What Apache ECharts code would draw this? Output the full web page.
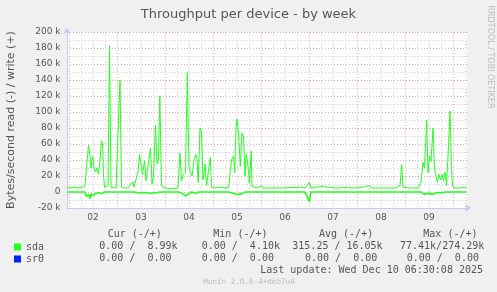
<!DOCTYPE html>
<html><head><meta charset="utf-8">
<script src="https://cdn.jsdelivr.net/npm/echarts@6/dist/echarts.min.js"></script>
<style>html,body{margin:0;padding:0;background:#f0f0f0}#c{width:497px;height:292px}</style>
</head><body><div id="c"></div>
<script>
// hours relative to Tue Dec 2 00:00 (plot spans -1 .. 199 h)
const hours = [
  -1, 0.5, 2.5, 4.5, 6.5, 8, 8.75, 9.75, 10.5, 11,
  11.75, 12.5, 13.25, 14, 14.75, 15.5, 16.25, 16.75, 17.25, 17.75,
  18.5, 19.5, 20.25, 21, 22, 23.5, 24.5, 25.5, 26.25, 27.5,
  29.5, 31, 32, 32.5, 33.5, 34.5, 35.25, 36, 36.75, 37.75,
  38.5, 39.25, 40.75, 41.5, 42.25, 43.25, 44, 44.75, 45.4, 46.25,
  47, 48.5, 50.5, 52.5, 54.5, 55.5, 56.25, 57.25, 58.25, 59.15,
  60, 60.75, 61.5, 62.5, 63.35, 64, 64.6, 65.5, 66.25, 67,
  68, 68.75, 69.75, 70.65, 71.25, 73, 75.5, 78, 79.85, 80.65,
  81.25, 82.35, 82.85, 83.5, 84, 84.85, 85.65, 86.5, 87.25, 88,
  88.65, 89.25, 89.75, 90.15, 91.15, 91.5, 92.25, 94, 96.35, 97,
  100.5, 105.5, 110.5, 115.5, 118, 120.15, 121, 126.35, 127, 133,
  138, 143, 146.5, 150.5, 151.5, 158, 163, 165.5, 166.35, 167,
  170.5, 174.5, 176, 177, 177.75, 178.85, 179.5, 180.25, 181, 182,
  182.75, 183.5, 184.25, 185, 185.75, 186.5, 187.25, 188, 188.75, 189.5,
  190.5, 191.25, 191.75, 192.5, 195.5, 197.5, 198.75
];
// sda write (+), kB/s
const sdaWrite = [
  6, 5, 6, 5, 6, 8, 30, 59, 45, 30,
  45, 30, 25, 30, 22, 40, 64, 60, 22, 6,
  5, 8, 183, 6, 5, 5, 6, 140, 6, 5,
  5, 10, 13, 6, 8, 25, 47, 35, 22, 39,
  14, 28, 55, 10, 20, 83, 35, 40, 120, 9,
  6, 5, 4, 4.5, 5, 49, 14, 22, 25, 150,
  30, 25, 20, 39, 47, 42, 12, 80, 75, 15,
  35, 8, 10, 43, 6, 5, 6, 5, 6, 26,
  40, 45, 24, 82, 91, 70, 32, 74, 70, 20,
  47, 47, 27, 11, 51, 7, 5, 5, 8, 5,
  5, 5, 5.5, 6, 5, 12, 5, 7, 5, 5,
  5.5, 5, 6, 8, 5, 5, 5, 8, 34, 6,
  5, 5, 12, 37, 30, 90, 24, 45, 38, 80,
  30, 20, 12, 22, 15, 22, 14, 25, 8, 45,
  101, 30, 8, 5, 5, 6, 6
];
// sda read (-), kB/s, drawn below zero
const sdaRead = [
  0, 0, 0, 0, 0, 0, -6, -3, -8, -2,
  -5, -7, -2, -4, -1, -3, -2, -1, -1, 0,
  0, 0, 0, 0, 0, 0, 0, 0, 0, 0,
  0, 0, 0, 0, 0, -1, -2, -1, -2, -1,
  -2, -1, -2, -1, -1, 0, -1, 0, 0, 0,
  0, 0, 0, 0, 0, -1, -1, -3, -5, -4,
  -2, -1, 0, -1, -2, 0, 0, 0, 0, 0,
  0, 0, 0, 0, 0, 0, 0, 0, 0, -1,
  -1, -2, -1, -3, -2, -3, -1, -2, -1, 0,
  0, 0, 0, 0, 0, 0, 0, 0, 0, 0,
  0, 0, 0, 0, 0, -12, 0, 0, 0, 0,
  0, 0, 0, 0, 0, 0, 0, 0, 0, 0,
  0, 0, 0, -1, -3, -2, -3, -2, -1, -3,
  -2, -1, -2, -1, -2, -1, 0, 0, 0, 0,
  0, 0, 0, 0, 0, 0, 0
];
const sr0Write = [];
const sr0Read = [];
const dayLabels = ['02', '03', '04', '05', '06', '07', '08', '09'];
const tableHeader = ['Cur (-/+)', 'Min (-/+)', 'Avg (-/+)', 'Max (-/+)'];
const sdaStats = ['0.00 /  8.99k', '0.00 /  4.10k', '315.25 / 16.05k', '77.41k/274.29k'];
const sr0Stats = ['0.00 /  0.00', '0.00 /  0.00', '0.00 /  0.00', '0.00 /  0.00'];
const lastUpdate = 'Last update: Wed Dec 10 06:30:08 2025';

// half-hour slots across the plot, for grid lines and day labels
const SLOTS = 401, PER_DAY = 48, DAY0 = 2;
const cats = [];
for (let i = 0; i < SLOTS; i++) {
  const d = (i - DAY0 - PER_DAY / 2) / PER_DAY;
  cats.push(Number.isInteger(d) && d >= 0 && d < dayLabels.length ? dayLabels[d] : '');
}

const GREEN = '#22ff22', BLUE = '#0022ff', TXT = '#555';
const MONO = '10px "DejaVu Sans Mono"';
const RED_GRID = {color: '#eeaaaa', type: [1, 2]};
const GRAY_GRID = {color: '#d0d0d0', type: [1, 2]};
const chart = echarts.init(document.getElementById('c'), null, {renderer: 'canvas'});

const graphics = [
  {type: 'text', x: 490, y: 57, rotation: -Math.PI / 2,
   style: {text: 'RRDTOOL / TOBI OETIKER', align: 'center', verticalAlign: 'middle', font: '8px "DejaVu Sans"', fill: '#bbb'}},
  {type: 'text', x: 483, y: 270, style: {text: lastUpdate, align: 'right', verticalAlign: 'middle', font: MONO, fill: TXT}},
  {type: 'text', x: 249, y: 282, style: {text: 'Munin 2.0.6-4+deb7u4', align: 'center', verticalAlign: 'middle', font: '7.6px "DejaVu Sans Mono"', fill: '#bbb'}}
];
const headX = [107.7, 213.3, 319, 423.3];
const sdaX = [99.3, 201.7, 292.3, 400];
const sr0X = [99.3, 201.7, 305, 406.7];
tableHeader.forEach((t, k) => graphics.push({type: 'text', x: headX[k], y: 234, style: {text: t, verticalAlign: 'middle', font: MONO, fill: TXT}}));
sdaStats.forEach((t, k) => graphics.push({type: 'text', x: sdaX[k], y: 246, style: {text: t, verticalAlign: 'middle', font: MONO, fill: TXT}}));
sr0Stats.forEach((t, k) => graphics.push({type: 'text', x: sr0X[k], y: 258, style: {text: t, verticalAlign: 'middle', font: MONO, fill: TXT}}));

const lineSeries = (name, xs, ys, color, z, width) => ({
  name, type: 'line', xAxisIndex: 1, yAxisIndex: 0, z,
  data: ys.map((v, i) => [xs[i], v]),
  showSymbol: false, symbol: 'none', animation: false,
  lineStyle: {color, width}, itemStyle: {color}
});

chart.setOption({
  backgroundColor: '#f0f0f0',
  animation: false,
  title: {text: 'Throughput per device - by week', left: 'center', top: 3,
          textStyle: {fontFamily: 'DejaVu Sans', fontSize: 13, fontWeight: 'normal', color: TXT}},
  legend: {data: ['sda', 'sr0'], orient: 'vertical', left: 14, top: 242, padding: 0,
           itemWidth: 7, itemHeight: 7, itemGap: 2, icon: 'rect', selectedMode: false,
           textStyle: {fontFamily: 'DejaVu Sans Mono', fontSize: 10, color: TXT}},
  grid: {left: 67, top: 32, width: 400, height: 176, show: true, backgroundColor: '#ffffff', borderWidth: 0,
         containLabel: false, outerBoundsMode: 'none'},
  xAxis: [
    {type: 'category', data: cats, boundaryGap: false, position: 'bottom',
     axisLine: {show: true, onZero: false, lineStyle: {color: '#c8c8f0'}, symbol: ['none', 'arrow'], symbolSize: [6, 6], symbolOffset: [0, 4]},
     axisTick: {show: false},
     axisLabel: {interval: (i) => cats[i] !== '', color: TXT, fontFamily: 'DejaVu Sans', fontSize: 9, margin: 5.5},
     splitLine: {show: true, interval: (i) => (i - DAY0) % PER_DAY === 0, lineStyle: RED_GRID}},
    {type: 'value', min: -1, max: 199, show: false},
    {type: 'category', data: cats, boundaryGap: false,
     axisLine: {show: false, onZero: false}, axisTick: {show: false}, axisLabel: {show: false},
     splitLine: {show: true, interval: (i) => (i - DAY0) % (PER_DAY / 4) === 0 && (i - DAY0) % PER_DAY !== 0,
                 lineStyle: GRAY_GRID}}
  ],
  yAxis: {type: 'value', min: -20, max: 200, interval: 20,
    name: 'Bytes/second read (-) / write (+)', nameLocation: 'middle', nameRotate: 90, nameGap: 50,
    nameTextStyle: {fontFamily: 'DejaVu Sans', fontSize: 11, color: TXT},
    axisLine: {show: true, onZero: false, lineStyle: {color: '#c8c8f0'}, symbol: ['none', 'arrow'], symbolSize: [6, 6], symbolOffset: [0, 4]},
    axisTick: {show: false},
    axisLabel: {formatter: (v) => v === 0 ? '0' : v + ' k', color: TXT, fontFamily: 'DejaVu Sans', fontSize: 9, margin: 6.5},
    splitLine: {show: true, lineStyle: RED_GRID},
    minorTick: {show: false, splitNumber: 2},
    minorSplitLine: {show: true, lineStyle: GRAY_GRID}},
  series: [
    lineSeries('sr0', hours, sr0Write, BLUE, 2, 1),
    lineSeries('sr0', hours, sr0Read, BLUE, 2, 1),
    lineSeries('sda', hours, sdaRead, GREEN, 3, 1.6),
    lineSeries('sda', hours, sdaWrite, GREEN, 3, 1)
  ],
  graphic: graphics
});
</script></body></html>
